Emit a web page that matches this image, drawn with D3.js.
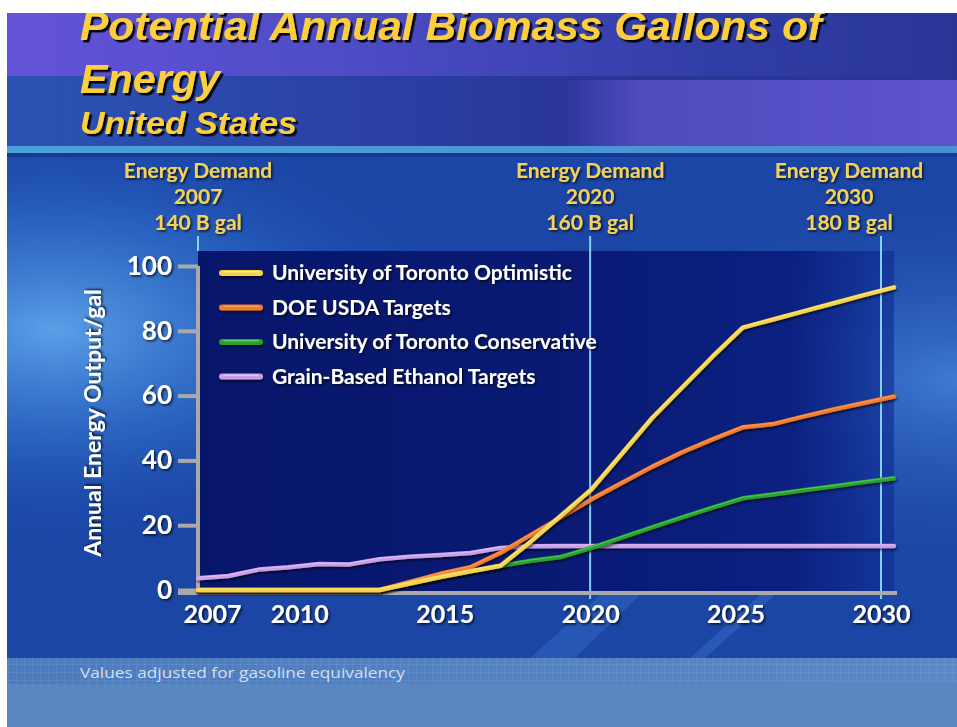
<!DOCTYPE html>
<html>
<head>
<meta charset="utf-8">
<script src="https://cdn.jsdelivr.net/npm/d3@7"></script>
<style>
  body { margin: 0; background: #fff; }
  svg { display: block; }
  .tick text { font-family: Lato, "Open Sans", sans-serif; font-weight: 700; fill: #fff; }
</style>
</head>
<body>
<svg id="chart" width="957" height="727"></svg>
<script>
// data
const years = d3.range(2007, 2031);
const optimistic   = [0, 0, 0, 0, 0, 0, 0, 2, 4, 5.8, 7.5, 15, 23, 31, 42, 53, 62.5, 72, 81, 83.5, 86, 88.5, 91, 93.4];
const doeUsda      = [0, 0, 0, 0, 0, 0, 0, 2.5, 5, 7, 11.5, 17, 22.5, 28, 33, 38, 42.5, 46.5, 50.2, 51.2, 53.5, 55.7, 57.7, 59.7];
const conservative = [0, 0, 0, 0, 0, 0, 0, 2, 4, 5.8, 7.5, 9, 10.2, 13, 16.2, 19.3, 22.4, 25.4, 28.3, 29.5, 30.8, 32, 33.3, 34.5];
const grainEthanol = [3.6, 4.3, 6.3, 7.0, 8.0, 7.9, 9.5, 10.3, 10.8, 11.4, 13.0, 13.5, 13.6, 13.6, 13.6, 13.6, 13.6, 13.6, 13.6, 13.6, 13.6, 13.6, 13.6, 13.6];

const seriesNames  = ["University of Toronto Optimistic", "DOE USDA Targets", "University of Toronto Conservative", "Grain-Based Ethanol Targets"];
const seriesColors = ["#f4d24c", "#f27a2c", "#26a22e", "#c89ee8"];
const seriesLight  = ["#fff2a0", "#ffb07a", "#7ad87a", "#ead4ff"];

const yTicks = [0, 20, 40, 60, 80, 100];
const xTicks = [2007, 2010, 2015, 2020, 2025, 2030];

const demandYears  = [2007, 2020, 2030];
const demandValues = ["140 B gal", "160 B gal", "180 B gal"];

const titleLines = ["Potential Annual Biomass Gallons of", "Energy"];
const subTitle = "United States";
const footNote = "Values adjusted for gasoline equivalency";

const W = 957, H = 727;
const svg = d3.select("#chart");
const defs = svg.append("defs");

// shadows (big user-space region so flat lines and shifted groups keep their filter area)
function shadow(id, dx, dy, blur, op) {
    defs.append("filter").attr("id", id)
        .attr("filterUnits", "userSpaceOnUse")
        .attr("x", -2000).attr("y", -2000).attr("width", 5000).attr("height", 5000)
        .append("feDropShadow").attr("dx", dx).attr("dy", dy).attr("stdDeviation", blur)
        .attr("flood-color", "#000").attr("flood-opacity", op);
}
shadow("txtShadow", 1.5, 1.5, 1, 0.75);
shadow("lineShadow", 1, 2, 1.2, 0.6);
shadow("titleShadow", 2.5, 2.5, 0.4, 0.95);

function linGrad(id, x1, y1, x2, y2, stops) {
    const g = defs.append("linearGradient").attr("id", id)
        .attr("x1", x1).attr("y1", y1).attr("x2", x2).attr("y2", y2);
    stops.forEach(s => g.append("stop").attr("offset", s[0]).attr("stop-color", s[1]).attr("stop-opacity", s[2] == null ? 1 : s[2]));
}
function radGrad(id, cx, cy, r, stops) {
    const g = defs.append("radialGradient").attr("id", id)
        .attr("cx", cx).attr("cy", cy).attr("r", r);
    stops.forEach(s => g.append("stop").attr("offset", s[0]).attr("stop-color", s[1]).attr("stop-opacity", s[2] == null ? 1 : s[2]));
}

linGrad("band1", 0, 0, 1, 0, [[0, "#6453d8"], [0.35, "#4e4cc6"], [0.75, "#303da6"], [1, "#2a3696"]]);
linGrad("band2", 0, 0, 1, 0, [[0, "#2a54b4"], [0.3, "#2b44a8"], [0.6, "#2a3598"], [1, "#2a3598"]]);
linGrad("band2r", 0, 0, 1, 0, [[0, "#5a50c8", 0], [0.2, "#5a50c8", 0.8], [1, "#5e54cc"]]);
linGrad("panel", 0, 0, 1, 0, [[0, "#07166a"], [0.5, "#091a74"], [0.85, "#0b2080"], [1, "#0e2a92", 0.6]]);
radGrad("glowL", 0.05, 0.35, 0.45, [[0, "#5aa0e8"], [0.5, "#2e6cc8", 0.7], [1, "#1a45a6", 0]]);
radGrad("glowR", 1, 0.45, 0.4, [[0, "#3f7ad0"], [1, "#1a45a6", 0]]);
linGrad("stripe", 0, 0, 1, 0, [[0, "#4aa0d8"], [1, "#4a8fd0"]]);
linGrad("foot", 0, 0, 1, 0, [[0, "#4c7cbe"], [1, "#5b88c6"]]);

// grid pattern in footer band
const pat = defs.append("pattern").attr("id", "grid").attr("width", 8).attr("height", 8).attr("patternUnits", "userSpaceOnUse");
pat.append("path").attr("d", "M8 0 L0 0 0 8").attr("fill", "none").attr("stroke", "#8fb0dc").attr("stroke-opacity", 0.35).attr("stroke-width", 1);

// slide background
const bg = svg.append("g").attr("class", "background");
bg.append("rect").attr("x", 7).attr("y", 13).attr("width", W - 7).attr("height", H - 13).attr("fill", "#1b46a6");
bg.append("rect").attr("x", 7).attr("y", 153).attr("width", W - 7).attr("height", 505).attr("fill", "url(#glowL)");
bg.append("rect").attr("x", 7).attr("y", 153).attr("width", W - 7).attr("height", 505).attr("fill", "url(#glowR)");
bg.append("rect").attr("x", 7).attr("y", 13).attr("width", W - 7).attr("height", 63).attr("fill", "url(#band1)");
bg.append("rect").attr("x", 7).attr("y", 76).attr("width", W - 7).attr("height", 70).attr("fill", "url(#band2)");
bg.append("rect").attr("x", 560).attr("y", 80).attr("width", W - 560).attr("height", 66).attr("fill", "url(#band2r)");
bg.append("rect").attr("x", 7).attr("y", 146).attr("width", W - 7).attr("height", 7).attr("fill", "url(#stripe)");
bg.append("rect").attr("x", 7).attr("y", 153).attr("width", W - 7).attr("height", 4).attr("fill", "#122f86").attr("opacity", 0.6);
// light diagonal streaks below the axis
bg.append("path").attr("d", "M530 658 L600 595 L640 595 L575 658 Z").attr("fill", "#3d78d0").attr("opacity", 0.35);
bg.append("path").attr("d", "M690 658 L760 595 L775 595 L705 658 Z").attr("fill", "#4a88da").attr("opacity", 0.3);

// footer bands
bg.append("rect").attr("x", 7).attr("y", 658).attr("width", W - 7).attr("height", 26).attr("fill", "url(#foot)");
bg.append("rect").attr("x", 7).attr("y", 658).attr("width", W - 7).attr("height", 26).attr("fill", "url(#grid)");
bg.append("rect").attr("x", 7).attr("y", 684).attr("width", W - 7).attr("height", H - 684).attr("fill", "#5a86c2");

// scales
const x = d3.scaleLinear().domain(d3.extent(years)).range([198, 894]);
const xTick = d3.scaleLinear().domain(d3.extent(years)).range([212, 881]); // tick labels sit slightly inset
const y = d3.scaleLinear().domain([0, 100]).range([590, 266]);
const axisY = 593;

// dark plot panel
svg.append("rect")
    .attr("x", x(years[0])).attr("y", 251)
    .attr("width", x.range()[1] - x.range()[0]).attr("height", axisY - 251)
    .attr("fill", "url(#panel)");

// energy demand guides
const demand = demandYears.map((yr, i) => ({ year: yr, value: demandValues[i] }));
const guideX = d => d.year === years[0] ? x(d.year) : xTick(d.year);

svg.append("g").selectAll("line")
    .data(demand).join("line")
    .attr("x1", guideX).attr("x2", guideX)
    .attr("y1", 236).attr("y2", d => d.year === years[0] ? 251 : axisY + 6)
    .attr("stroke", "#86cdf2").attr("stroke-width", 2);

const demandLabels = svg.append("g").selectAll("text")
    .data(demand).join("text")
    .attr("x", d => Math.min(guideX(d), W - 31 - 77))
    .attr("y", 178)
    .attr("text-anchor", "middle")
    .attr("font-family", "Lato, 'Open Sans', sans-serif")
    .attr("font-weight", 700).attr("font-size", 21)
    .attr("fill", "#f4d25a")
    .attr("filter", "url(#txtShadow)");
demandLabels.append("tspan").text("Energy Demand");
demandLabels.append("tspan").attr("x", function () { return d3.select(this.parentNode).attr("x"); }).attr("dy", 26).text(d => d.year);
demandLabels.append("tspan").attr("x", function () { return d3.select(this.parentNode).attr("x"); }).attr("dy", 26).text(d => d.value);

// y axis
const yAxis = svg.append("g")
    .attr("transform", `translate(${x(years[0])},0)`)
    .call(d3.axisLeft(y).tickValues(yTicks).tickSize(20).tickSizeOuter(0).tickPadding(6));
yAxis.select(".domain").attr("stroke", "#a9a9a9").attr("stroke-width", 4).attr("d", `M0,${y(100)}V${axisY}`);
yAxis.selectAll(".tick line").attr("stroke", "#a9a9a9").attr("stroke-width", 4);
yAxis.selectAll(".tick text").attr("font-size", 26).attr("filter", "url(#txtShadow)");

// x axis
const xAxis = svg.append("g")
    .attr("transform", `translate(0,${axisY})`)
    .call(d3.axisBottom(xTick).tickValues(xTicks).tickFormat(d3.format("d")).tickSize(0).tickPadding(12));
xAxis.select(".domain").remove();
xAxis.selectAll(".tick text").attr("font-size", 25).attr("filter", "url(#txtShadow)");
svg.append("line")
    .attr("x1", x(years[0]) - 20).attr("x2", x.range()[1] + 3)
    .attr("y1", axisY).attr("y2", axisY)
    .attr("stroke", "#a9a9a9").attr("stroke-width", 4);

// lines, drawn back to front
const allSeries = [optimistic, doeUsda, conservative, grainEthanol];
const line = d3.line().x((d, i) => x(years[i])).y(d => y(d));
const order = [3, 2, 1, 0];

const lines = svg.append("g").attr("class", "lines");
order.forEach(k => {
    lines.append("path")
        .datum(allSeries[k])
        .attr("d", line)
        .attr("fill", "none")
        .attr("stroke", seriesColors[k])
        .attr("stroke-width", 4.5)
        .attr("stroke-linecap", "round")
        .attr("stroke-linejoin", "round")
        .attr("filter", "url(#lineShadow)");
    lines.append("path")
        .datum(allSeries[k])
        .attr("d", line)
        .attr("transform", "translate(0,-1)")
        .attr("fill", "none")
        .attr("stroke", seriesLight[k])
        .attr("stroke-opacity", 0.55)
        .attr("stroke-width", 1.2)
        .attr("stroke-linecap", "round");
});

// legend
const legend = svg.append("g").attr("transform", "translate(222,273)");
const items = legend.selectAll("g")
    .data(seriesNames).join("g")
    .attr("transform", (d, i) => `translate(0,${i * 34.5})`);
items.append("line")
    .attr("x1", 0).attr("x2", 38)
    .attr("stroke", (d, i) => seriesColors[i])
    .attr("stroke-width", 6).attr("stroke-linecap", "round")
    .attr("filter", "url(#lineShadow)");
items.append("line")
    .attr("x1", 2).attr("x2", 36).attr("y1", -1.3).attr("y2", -1.3)
    .attr("stroke", (d, i) => seriesLight[i]).attr("stroke-opacity", 0.7)
    .attr("stroke-width", 1.5).attr("stroke-linecap", "round");
items.append("text")
    .attr("x", 50).attr("y", 7)
    .attr("font-family", "Lato, 'Open Sans', sans-serif")
    .attr("font-weight", 700).attr("font-size", 21)
    .attr("fill", "#fff")
    .attr("filter", "url(#txtShadow)")
    .text(d => d);

// axis title
svg.append("text")
    .attr("transform", "translate(101,423) rotate(-90)")
    .attr("text-anchor", "middle")
    .attr("font-family", "Lato, 'Open Sans', sans-serif")
    .attr("font-weight", 700).attr("font-size", 23)
    .attr("fill", "#fff")
    .attr("filter", "url(#txtShadow)")
    .text("Annual Energy Output/gal");

// title
const clip = defs.append("clipPath").attr("id", "slideClip");
clip.append("rect").attr("x", 7).attr("y", 13).attr("width", W - 7).attr("height", H - 13);

const title = svg.append("g").attr("clip-path", "url(#slideClip)")
    .attr("font-family", "'Liberation Sans', Arial, sans-serif")
    .attr("font-weight", 700).attr("font-style", "italic")
    .attr("fill", "#fdcf3e")
    .attr("filter", "url(#titleShadow)");
title.append("text").attr("x", 80).attr("y", 40).attr("font-size", 41)
    .attr("textLength", 742).attr("lengthAdjust", "spacingAndGlyphs").text(titleLines[0]);
title.append("text").attr("x", 80).attr("y", 93).attr("font-size", 41)
    .attr("textLength", 140).attr("lengthAdjust", "spacingAndGlyphs").text(titleLines[1]);
title.append("text").attr("x", 80).attr("y", 134).attr("font-size", 31)
    .attr("textLength", 217).attr("lengthAdjust", "spacingAndGlyphs").text(subTitle);

// footnote
svg.append("text")
    .attr("x", 80).attr("y", 678)
    .attr("font-family", "'Open Sans', sans-serif")
    .attr("font-size", 15)
    .attr("fill", "#d4def0")
    .attr("textLength", 325).attr("lengthAdjust", "spacingAndGlyphs")
    .text(footNote);
</script>
</body>
</html>
